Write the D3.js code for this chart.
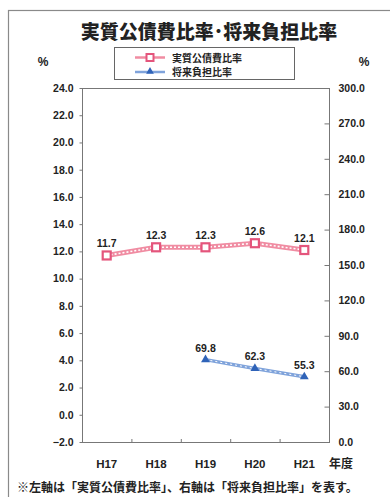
<!DOCTYPE html>
<html>
<head>
<meta charset="utf-8">
<script src="https://cdn.jsdelivr.net/npm/d3@7"></script>
<style>
  html, body { margin: 0; padding: 0; background: #fff; }
  svg { display: block; }
  text { font-family: "Liberation Sans", Arial, "Noto Sans CJK JP", sans-serif; fill: #222; }
  .jp { font-family: "Noto Sans CJK JP", sans-serif; }
</style>
</head>
<body>
<svg id="chart" width="390" height="497"></svg>
<script>
// Fiscal years (Heisei)
const years = ["H17", "H18", "H19", "H20", "H21"];
// 実質公債費比率 (left axis, %)
const debtRatio = [11.7, 12.3, 12.3, 12.6, 12.1];
// 将来負担比率 (right axis, %), reported from H19
const burdenYears = ["H19", "H20", "H21"];
const burdenRatio = [69.8, 62.3, 55.3];
// Axis ticks
const leftTicks = [-2, 0, 2, 4, 6, 8, 10, 12, 14, 16, 18, 20, 22, 24];
const rightTicks = [0, 30, 60, 90, 120, 150, 180, 210, 240, 270, 300];
const seriesNames = ["実質公債費比率", "将来負担比率"];

const svg = d3.select("#chart");
const plot = { left: 82, right: 329, top: 88, bottom: 442 };

const x = d3.scaleBand().domain(years).range([plot.left, plot.right]);
const yL = d3.scaleLinear().domain([-2, 24]).range([plot.bottom, plot.top]);
const yR = d3.scaleLinear().domain([0, 300]).range([plot.bottom, plot.top]);

const red = "#e4557c", redLine = "#f08ca2";
const blue = "#2f63b8", blueLine = "#7fa3db";

// outer frame
svg.append("rect").attr("x", 8.5).attr("y", 10.5).attr("width", 400).attr("height", 510)
  .attr("fill", "none").attr("stroke", "#8a8a8a").attr("stroke-width", 1.2);

// title
svg.append("text").attr("class", "jp").attr("x", 209).attr("y", 39)
  .attr("text-anchor", "middle").attr("font-size", 19).attr("font-weight", 900)
  .text("実質公債費比率･将来負担比率");

// unit labels
svg.append("text").attr("x", 43).attr("y", 66).attr("text-anchor", "middle")
  .attr("font-size", 12).attr("font-weight", 700).text("%");
svg.append("text").attr("x", 364).attr("y", 66).attr("text-anchor", "middle")
  .attr("font-size", 12).attr("font-weight", 700).text("%");

// plot frame
svg.append("rect").attr("x", plot.left + 0.5).attr("y", plot.top + 0.5)
  .attr("width", plot.right - plot.left).attr("height", plot.bottom - plot.top)
  .attr("fill", "none").attr("stroke", "#777").attr("stroke-width", 1);

// left axis
const gL = svg.append("g").attr("transform", `translate(${plot.left + 0.5},0)`)
  .call(d3.axisLeft(yL).tickValues(leftTicks).tickFormat(d3.format(".1f")).tickSize(3).tickPadding(6));
// right axis
const gR = svg.append("g").attr("transform", `translate(${plot.right + 0.5},0)`)
  .call(d3.axisRight(yR).tickValues(rightTicks).tickFormat(d3.format(".1f")).tickSize(-5).tickPadding(9));
// x axis, ticks on category boundaries
const gX = svg.append("g").attr("transform", `translate(0,${plot.bottom + 0.5})`)
  .call(d3.axisBottom(x).tickSize(0).tickPadding(17));
svg.append("g").selectAll("line").data(years.slice(1)).join("line")
  .attr("x1", d => x(d) + 0.5).attr("x2", d => x(d) + 0.5)
  .attr("y1", plot.bottom - 3).attr("y2", plot.bottom)
  .attr("stroke", "#777");

[gL, gR, gX].forEach(g => {
  g.select(".domain").remove();
  g.selectAll(".tick line").attr("stroke", "#777");
  g.selectAll(".tick text").attr("font-size", 10.5).attr("font-weight", 700).attr("fill", "#222")
    .attr("font-family", "'Liberation Sans', Arial, sans-serif");
});
gX.selectAll(".tick text").attr("font-size", 11.5);

svg.append("text").attr("class", "jp").attr("x", 341).attr("y", 468).attr("text-anchor", "middle")
  .attr("font-size", 12).attr("font-weight", 700).text("年度");

// 実質公債費比率 series
const redPts = years.map((d, i) => ({ x: x(d) + x.bandwidth() / 2, y: yL(debtRatio[i]), v: debtRatio[i] }));
const line = d3.line().x(d => d.x).y(d => d.y);
svg.append("path").datum(redPts).attr("d", line).attr("fill", "none")
  .attr("stroke", redLine).attr("stroke-width", 5);
svg.append("path").datum(redPts).attr("d", line).attr("fill", "none")
  .attr("stroke", "#fff").attr("stroke-width", 1.6).attr("stroke-dasharray", "2,2");
svg.append("g").selectAll("rect").data(redPts).join("rect")
  .attr("x", d => d.x - 4).attr("y", d => d.y - 4).attr("width", 8).attr("height", 8)
  .attr("fill", "#fff").attr("stroke", red).attr("stroke-width", 2.2);
svg.append("g").selectAll("text").data(redPts).join("text")
  .attr("x", d => d.x).attr("y", d => d.y - 8).attr("text-anchor", "middle")
  .attr("font-size", 10.5).attr("font-weight", 700).text(d => d.v.toFixed(1));

// 将来負担比率 series
const bluePts = burdenYears.map((d, i) => ({ x: x(d) + x.bandwidth() / 2, y: yR(burdenRatio[i]), v: burdenRatio[i] }));
svg.append("path").datum(bluePts).attr("d", line).attr("fill", "none")
  .attr("stroke", blueLine).attr("stroke-width", 3.5);
svg.append("path").datum(bluePts).attr("d", line).attr("fill", "none")
  .attr("stroke", "#fff").attr("stroke-width", 1).attr("stroke-dasharray", "2,3");
const tri = d3.symbol().type(d3.symbolTriangle).size(34);
svg.append("g").selectAll("path").data(bluePts).join("path")
  .attr("transform", d => `translate(${d.x},${d.y})`).attr("d", tri).attr("fill", blue);
svg.append("g").selectAll("text").data(bluePts).join("text")
  .attr("x", d => d.x).attr("y", d => d.y - 8).attr("text-anchor", "middle")
  .attr("font-size", 10.5).attr("font-weight", 700).text(d => d.v.toFixed(1));

// legend
const lg = svg.append("g");
lg.append("rect").attr("x", 114.5).attr("y", 47.5).attr("width", 180).attr("height", 32)
  .attr("fill", "#fff").attr("stroke", "#666").attr("stroke-width", 1);
// row 1
lg.append("line").attr("x1", 135).attr("x2", 165).attr("y1", 57.5).attr("y2", 57.5)
  .attr("stroke", redLine).attr("stroke-width", 2.5);
lg.append("rect").attr("x", 146.5).attr("y", 54).attr("width", 7).attr("height", 7)
  .attr("fill", "#fff").attr("stroke", red).attr("stroke-width", 2);
lg.append("text").attr("class", "jp").attr("x", 172).attr("y", 61.5)
  .attr("font-size", 10).attr("font-weight", 700).text(seriesNames[0]);
// row 2
lg.append("line").attr("x1", 135).attr("x2", 165).attr("y1", 72).attr("y2", 72)
  .attr("stroke", blueLine).attr("stroke-width", 2.5);
lg.append("path").attr("transform", "translate(150,71.5)")
  .attr("d", d3.symbol().type(d3.symbolTriangle).size(26)).attr("fill", blue);
lg.append("text").attr("class", "jp").attr("x", 172).attr("y", 76)
  .attr("font-size", 10).attr("font-weight", 700).text(seriesNames[1]);

// footnote
svg.append("text").attr("class", "jp").attr("x", 17).attr("y", 492)
  .attr("font-size", 12).attr("font-weight", 700)
  .text("※左軸は「実質公債費比率」、右軸は「将来負担比率」を表す。");
</script>
</body>
</html>
